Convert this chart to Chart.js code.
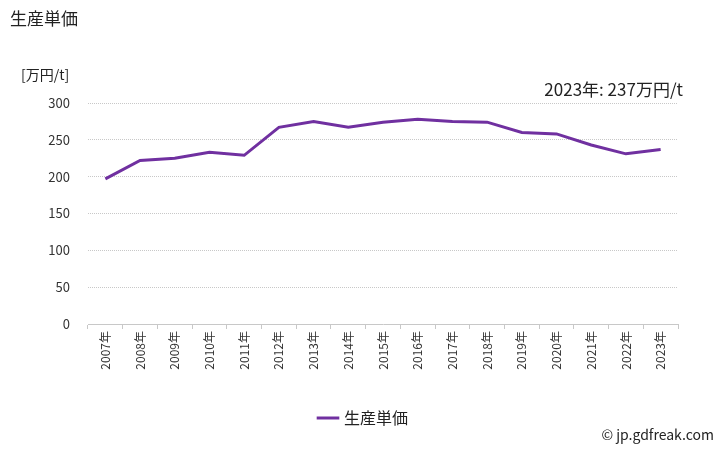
<!DOCTYPE html>
<html><head><meta charset="utf-8">
<script src="https://cdn.jsdelivr.net/npm/chart.js@4/dist/chart.umd.min.js"></script>
<style>
html,body{margin:0;padding:0;background:#fff;}
#wrap{position:relative;width:728px;height:450px;font-family:"Noto Sans CJK JP","Noto Sans",sans-serif;color:#333;}
.t{position:absolute;white-space:nowrap;}
canvas{position:absolute;left:0;top:0;}
</style></head>
<body><div id="wrap">
<canvas id="c" width="728" height="450"></canvas>
<div class="t" style="left:10px;top:5px;font-size:17px;color:#222;">生産単価</div>
<div class="t" style="left:21px;top:64px;font-size:14px;color:#222;">[万円/t]</div>
<div class="t" id="ann" style="right:45px;top:76px;font-size:17px;color:#222;"></div>
<div class="t" style="right:14px;top:424px;font-size:14px;color:#222;">© jp.gdfreak.com</div>
</div>
<script>
const categories = ["2007年","2008年","2009年","2010年","2011年","2012年","2013年","2014年","2015年","2016年","2017年","2018年","2019年","2020年","2021年","2022年","2023年"];
const seriesName = "生産単価";
const values = [197, 222, 225, 233, 229, 267, 275, 267, 274, 278, 275, 274, 260, 258, 243, 231, 237];
const yTicks = [0, 50, 100, 150, 200, 250, 300];
const unit = "万円/t";

document.getElementById('ann').textContent = categories[categories.length-1] + ": " + values[values.length-1] + unit;

const fam = '"Noto Sans CJK JP","Noto Sans",sans-serif';
new Chart(document.getElementById('c'), {
  type: 'line',
  data: {labels: categories, datasets: [{label: seriesName, data: values, borderColor: '#7030A0', backgroundColor: '#7030A0', borderWidth: 3, pointRadius: 0, tension: 0}]},
  options: {
    responsive: false, animation: false,
    layout: {padding: {top: 103, right: 0, bottom: 14, left: 0}},
    plugins: {
      legend: {position: 'bottom', labels: {usePointStyle: true, pointStyle: 'line', boxWidth: 25, color: '#222', font: {family: fam, size: 16}, padding: 10}},
      tooltip: {enabled: false}
    },
    scales: {
      x: {
        offset: true,
        grid: {offset: true, drawOnChartArea: false, drawTicks: true, tickLength: 5, color: '#c8c8c8'},
        border: {color: '#c8c8c8', dash: [1,1]},
        ticks: {maxRotation: 90, minRotation: 90, color: '#333', font: {family: fam, size: 12}, padding: 2, autoSkip: false},
        afterFit: s => { s.height = 76; }
      },
      y: {
        min: 0, max: 300,
        afterBuildTicks: s => { s.ticks = yTicks.map(v => ({value: v})); },
        grid: {color: '#c8c8c8', drawTicks: false},
        border: {display: false, dash: [1,1]},
        ticks: {color: '#333', font: {family: fam, size: 13}, padding: 18},
        afterFit: s => { s.width = 88; }
      },
      yR: {
        position: 'right', display: true,
        grid: {display: false, drawTicks: false},
        border: {display: false},
        ticks: {display: false},
        afterFit: s => { s.width = 50; }
      }
    }
  }
});
</script>
</body></html>
